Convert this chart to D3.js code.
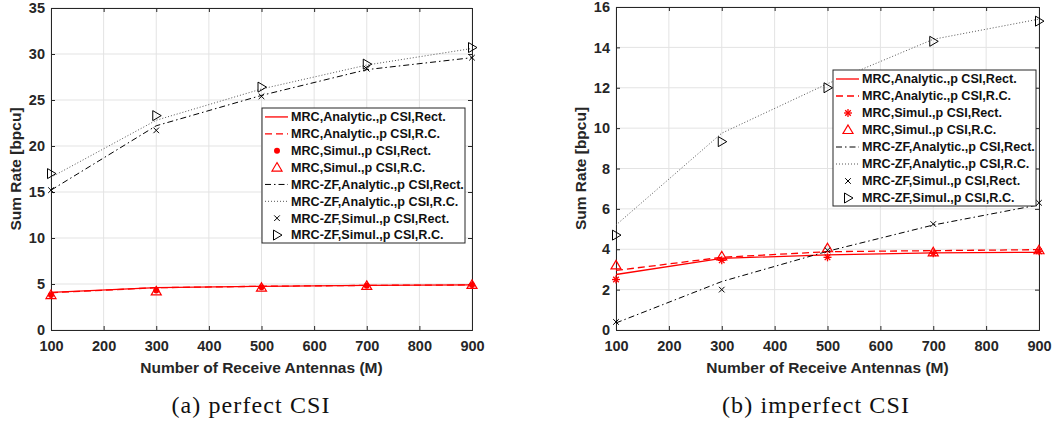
<!DOCTYPE html>
<html>
<head>
<meta charset="utf-8">
<script src="https://cdn.jsdelivr.net/npm/d3@7"></script>
<style>
  body { margin: 0; background: #fff; }
  svg text { font-family: "Liberation Sans", Arial, sans-serif; }
</style>
</head>
<body>
<svg id="fig" width="1052" height="424"></svg>
<script>
// data
const antennas = [100, 300, 500, 700, 900];
const xTicks = [100, 200, 300, 400, 500, 600, 700, 800, 900];

// (a) perfect CSI
const pMrcAnaRect = [4.1, 4.6, 4.75, 4.85, 4.9];
const pMrcAnaRC   = [4.05, 4.6, 4.75, 4.85, 4.9];
const pMrcSimRect = [3.8, 4.3, 4.65, 4.8, 4.9];
const pMrcSimRC   = [3.8, 4.2, 4.6, 4.8, 4.9];
const pZfAnaRect  = [15.2, 22.2, 25.5, 28.3, 29.6];
const pZfAnaRC    = [16.6, 22.8, 26.2, 28.8, 30.6];
const pZfSimRect  = [15.2, 21.7, 25.4, 28.4, 29.6];
const pZfSimRC    = [17.0, 23.3, 26.4, 28.9, 30.7];

// (b) imperfect CSI
const iMrcAnaRect = [2.75, 3.55, 3.72, 3.82, 3.85];
const iMrcAnaRC   = [2.95, 3.6, 3.88, 3.93, 3.98];
const iMrcSimRect = [2.5, 3.45, 3.6, 3.8, 3.9];
const iMrcSimRC   = [3.2, 3.65, 4.05, 3.85, 3.95];
const iZfAnaRect  = [0.35, 2.4, 3.9, 5.2, 6.2];
const iZfAnaRC    = [5.2, 9.75, 12.2, 14.4, 15.4];
const iZfSimRect  = [0.4, 2.0, 3.95, 5.25, 6.3];
const iZfSimRC    = [4.7, 9.33, 12.0, 14.3, 15.3];

const legendLabels = [
  "MRC,Analytic.,p CSI,Rect.",
  "MRC,Analytic.,p CSI,R.C.",
  "MRC,Simul.,p CSI,Rect.",
  "MRC,Simul.,p CSI,R.C.",
  "MRC-ZF,Analytic.,p CSI,Rect.",
  "MRC-ZF,Analytic.,p CSI,R.C.",
  "MRC-ZF,Simul.,p CSI,Rect.",
  "MRC-ZF,Simul.,p CSI,R.C."
];

const xLabel = "Number of Receive Antennas (M)";
const yLabel = "Sum Rate [bpcu]";

const panels = [
  { x0: 51, x1: 472, y0: 8, y1: 330, ymax: 35, ystep: 5, caption: "(a) perfect CSI", capX: 251,
    dotMarker: "circle",
    lines: [pMrcAnaRect, pMrcAnaRC, pZfAnaRect, pZfAnaRC],
    sims: [pMrcSimRect, pMrcSimRC, pZfSimRect, pZfSimRC],
    legend: { x: 262, y: 108, w: 203, h: 135 } },
  { x0: 616, x1: 1039, y0: 7, y1: 330, ymax: 16, ystep: 2, caption: "(b) imperfect CSI", capX: 816,
    dotMarker: "asterisk",
    lines: [iMrcAnaRect, iMrcAnaRC, iZfAnaRect, iZfAnaRC],
    sims: [iMrcSimRect, iMrcSimRC, iZfSimRect, iZfSimRC],
    legend: { x: 833, y: 70, w: 203, h: 136 } }
];

const axisColor = "#262626";
const lineStyles = [
  { stroke: "#ff0000", dash: null, width: 1.3 },
  { stroke: "#ff0000", dash: "7,4", width: 1.3 },
  { stroke: "#000000", dash: "6,3,1.5,3", width: 1 },
  { stroke: "#555555", dash: "1,2", width: 1 }
];
const markerTypes = ["dot", "triRC", "cross", "triRight"];

const svg = d3.select("#fig");
svg.append("rect").attr("width", 1052).attr("height", 424).attr("fill", "#fff");

function drawMarker(g, type, x, y, dot) {
  if (type === "dot") {
    if (dot === "circle") {
      g.append("circle").attr("cx", x).attr("cy", y).attr("r", 3).attr("fill", "#ff0000");
    } else {
      const s = 4;
      [[s, 0], [0, s], [s * 0.7, s * 0.7], [s * 0.7, -s * 0.7]].forEach(function(d) {
        g.append("line").attr("x1", x - d[0]).attr("y1", y - d[1]).attr("x2", x + d[0]).attr("y2", y + d[1])
          .attr("stroke", "#ff0000").attr("stroke-width", 1.3);
      });
    }
  } else if (type === "triRC") {
    const s = 5;
    g.append("path").attr("d", "M" + x + "," + (y - s) + "L" + (x + s) + "," + (y + s * 0.7) + "L" + (x - s) + "," + (y + s * 0.7) + "Z")
      .attr("fill", "none").attr("stroke", "#ff0000").attr("stroke-width", 1.2);
  } else if (type === "cross") {
    const s = 2.8;
    g.append("path").attr("d", "M" + (x - s) + "," + (y - s) + "L" + (x + s) + "," + (y + s) + "M" + (x - s) + "," + (y + s) + "L" + (x + s) + "," + (y - s))
      .attr("stroke", "#000").attr("stroke-width", 1);
  } else if (type === "triRight") {
    const s = 5;
    g.append("path").attr("d", "M" + (x + s) + "," + y + "L" + (x - s * 0.7) + "," + (y - s) + "L" + (x - s * 0.7) + "," + (y + s) + "Z")
      .attr("fill", "none").attr("stroke", "#000").attr("stroke-width", 1);
  }
}

panels.forEach(function(p) {
  const x = d3.scaleLinear().domain([100, 900]).range([p.x0, p.x1]);
  const y = d3.scaleLinear().domain([0, p.ymax]).range([p.y1, p.y0]);
  const yTicks = d3.range(0, p.ymax + 0.001, p.ystep);
  const g = svg.append("g");

  // grid
  g.selectAll(".gx").data(xTicks).enter().append("line")
    .attr("x1", d => x(d)).attr("x2", d => x(d)).attr("y1", p.y0).attr("y2", p.y1)
    .attr("stroke", "#e3e3e3").attr("stroke-width", 1);
  g.selectAll(".gy").data(yTicks).enter().append("line")
    .attr("x1", p.x0).attr("x2", p.x1).attr("y1", d => y(d)).attr("y2", d => y(d))
    .attr("stroke", "#e3e3e3").attr("stroke-width", 1);

  // axes (MATLAB style, ticks inside, box on)
  const axB = d3.axisBottom(x).tickValues(xTicks).tickSize(-4).tickPadding(11).tickFormat(d3.format("d"));
  const axT = d3.axisTop(x).tickValues(xTicks).tickSize(-4).tickFormat("");
  const axL = d3.axisLeft(y).tickValues(yTicks).tickSize(-4).tickPadding(6).tickFormat(d3.format("d"));
  const axR = d3.axisRight(y).tickValues(yTicks).tickSize(-4).tickFormat("");
  [[axB, "translate(0," + p.y1 + ")"], [axT, "translate(0," + p.y0 + ")"],
   [axL, "translate(" + p.x0 + ",0)"], [axR, "translate(" + p.x1 + ",0)"]].forEach(function(a) {
    const ag = g.append("g").attr("transform", a[1]).call(a[0]);
    ag.select(".domain").attr("stroke", axisColor).attr("stroke-width", 1);
    ag.selectAll(".tick line").attr("stroke", axisColor);
    ag.selectAll("text").attr("fill", axisColor).attr("font-size", 14.5).attr("font-weight", "bold")
      .attr("font-family", "Liberation Sans, Arial, sans-serif");
  });

  // analytic curves
  p.lines.forEach(function(vals, i) {
    const st = lineStyles[i];
    g.append("path").datum(vals)
      .attr("d", d3.line().x((d, j) => x(antennas[j])).y(d => y(d)))
      .attr("fill", "none").attr("stroke", st.stroke).attr("stroke-width", st.width)
      .attr("stroke-dasharray", st.dash);
  });

  // simulation markers
  p.sims.forEach(function(vals, i) {
    vals.forEach(function(v, j) {
      drawMarker(g, markerTypes[i], x(antennas[j]), y(v), p.dotMarker);
    });
  });

  // axis titles
  g.append("text").attr("x", (p.x0 + p.x1) / 2).attr("y", 368).attr("dy", "0.35em").attr("text-anchor", "middle")
    .attr("font-size", 15.5).attr("font-weight", "bold").attr("fill", axisColor).text(xLabel);
  g.append("text").attr("transform", "translate(" + (p.x0 - 35) + "," + ((p.y0 + p.y1) / 2) + ") rotate(-90)")
    .attr("text-anchor", "middle").attr("dy", "0.35em").attr("font-size", 15.5).attr("font-weight", "bold")
    .attr("fill", axisColor).text(yLabel);

  // caption
  svg.append("text").attr("x", p.capX).attr("y", 413).attr("text-anchor", "middle")
    .attr("font-size", 24).attr("letter-spacing", 1.1).style("font-family", "Liberation Serif, serif")
    .attr("fill", "#111").text(p.caption);

  // legend
  const L = p.legend;
  const lg = g.append("g").attr("transform", "translate(" + L.x + "," + L.y + ")");
  lg.append("rect").attr("width", L.w).attr("height", L.h).attr("fill", "#fff")
    .attr("stroke", axisColor).attr("stroke-width", 1);
  const rowH = L.h / legendLabels.length;
  legendLabels.forEach(function(lab, k) {
    const cy = rowH * (k + 0.5) + 0.5;
    const sym = [0, 1, null, null, 2, 3, null, null][k];
    if (sym !== null) {
      const st = lineStyles[sym];
      lg.append("line").attr("x1", 3).attr("x2", 26).attr("y1", cy).attr("y2", cy)
        .attr("stroke", st.stroke).attr("stroke-width", st.width).attr("stroke-dasharray", st.dash);
    } else {
      const mk = { 2: 0, 3: 1, 6: 2, 7: 3 }[k];
      drawMarker(lg, markerTypes[mk], 15, cy, p.dotMarker);
    }
    lg.append("text").attr("x", 29).attr("y", cy).attr("dy", "0.35em")
      .attr("font-size", 12.6).attr("font-weight", "bold").attr("fill", "#111").text(lab);
  });
});
</script>
</body>
</html>
